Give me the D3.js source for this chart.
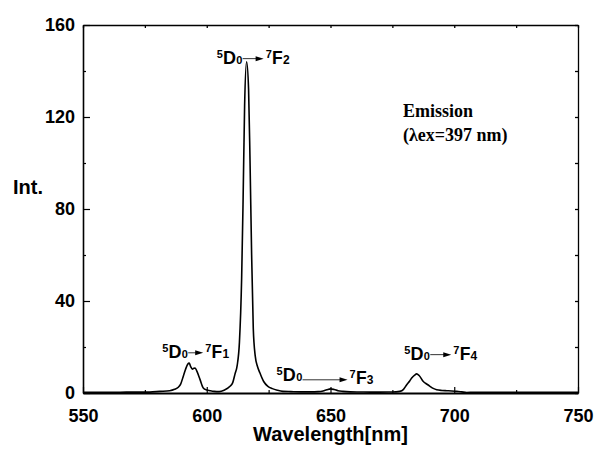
<!DOCTYPE html>
<html>
<head>
<meta charset="utf-8">
<script src="https://cdn.jsdelivr.net/npm/d3@7"></script>
<style>
  body { margin: 0; background: #fff; }
  svg { display: block; }
  .tick text { font-family: "Liberation Sans", Arial, sans-serif; font-weight: bold; font-size: 18px; fill: #000; }
  .axis path, .axis line { stroke: #000; }
  .lbl { font-family: "Liberation Sans", Arial, sans-serif; font-weight: bold; fill: #000; }
</style>
</head>
<body>
<svg width="597" height="457"></svg>
<script>
// emission spectrum
const wavelength = [550,555,560,565,570,575,577,581,585,587,588.5,589.5,590.5,591.5,592.3,592.9,593.5,594.2,594.8,595.3,596,597.3,598.6,600,601.3,603,605,607,609.4,610.5,611.4,612.3,613.2,614.1,614.7,615.3,616.1,616.9,617.5,618.1,618.8,619.6,620.5,621.5,623,624.7,626.5,628.5,630.8,634,638,642,645,647,648.5,650,651.5,653,655,658,662,666,670,674,676.5,678,679.5,680.8,682,682.8,684,684.8,685.8,687.5,689,690.2,691.5,692.9,695,697,699,701,703,705,708,712,718,725,732,740,750];
const intensity  = [0.3,0.3,0.35,0.35,0.4,0.4,0.4,0.7,1.0,1.6,2.5,4,7.2,10.5,12.5,13,11.5,10.4,10.8,10.9,9.5,5.8,2.2,1.3,1.0,0.7,0.6,1.2,2.9,4.5,8.2,12,22,50,85,125,144,132,100,62,28,16,11.5,8.7,5,2.9,1.9,1.2,0.7,0.6,0.5,0.5,0.6,0.9,1.4,1.8,1.5,1.0,0.7,0.5,0.45,0.4,0.4,0.45,0.5,0.7,1.6,3.6,5.2,6.5,7.8,8.3,7.6,5,3.8,2.9,2,1.4,1.1,1.0,0.9,0.7,0.5,0.25,0.3,0.3,0.3,0.3,0.3,0.3,0.3];

const xTicks = [550, 600, 650, 700, 750];
const xMinor = [575, 625, 675, 725];
const yTicks = [0, 40, 80, 120, 160];
const yMinor = [20, 60, 100, 140];

// 5D0 -> 7FJ transitions, anchored in data units
const transJ = ['1', '2', '3', '4'];
const transX = [582, 604, 628.2, 679.8];
const transY = [15.3, 143.2, 5.3, 14.5];

const xLabel = 'Wavelength[nm]';
const yLabel = 'Int.';
const noteLines = ['Emission', '(λex=397 nm)'];

const margin = { left: 83, right: 19, top: 25, bottom: 64 };
const svg = d3.select('svg');
const width = +svg.attr('width');
const height = +svg.attr('height');
const innerWidth = width - margin.left - margin.right;
const innerHeight = height - margin.top - margin.bottom;

const g = svg.append('g')
    .attr('transform', `translate(${margin.left},${margin.top})`);

const x = d3.scaleLinear().domain([550, 750]).range([0, innerWidth]);
const y = d3.scaleLinear().domain([0, 160]).range([innerHeight, 0]);

// frame: top and right mirror ticks, no labels
g.append('g').attr('class', 'axis')
    .call(d3.axisTop(x).tickValues(xTicks.concat(xMinor)).tickSize(-3).tickSizeOuter(0))
    .call(s => s.selectAll('text').remove())
    .call(s => s.selectAll('path, line').attr('stroke-width', 1.3));
g.append('g').attr('class', 'axis')
    .attr('transform', `translate(${innerWidth},0)`)
    .call(d3.axisRight(y).tickValues(yTicks.concat(yMinor)).tickSize(-3).tickSizeOuter(0))
    .call(s => s.selectAll('text').remove())
    .call(s => s.selectAll('path, line').attr('stroke-width', 1.3));

// bottom axis
g.append('g').attr('class', 'axis')
    .attr('transform', `translate(0,${innerHeight})`)
    .call(d3.axisBottom(x).tickValues(xMinor).tickSize(-3).tickSizeOuter(0))
    .call(s => s.selectAll('text').remove())
    .call(s => s.selectAll('line').attr('stroke-width', 1.2));
g.append('g').attr('class', 'axis')
    .attr('transform', `translate(0,${innerHeight})`)
    .call(d3.axisBottom(x).tickValues(xTicks).tickSize(-6).tickSizeOuter(0).tickPadding(16))
    .call(s => s.select('.domain').attr('stroke-width', 2))
    .call(s => s.selectAll('line').attr('stroke-width', 1.2));

// left axis
g.append('g').attr('class', 'axis')
    .call(d3.axisLeft(y).tickValues(yMinor).tickSize(-3).tickSizeOuter(0))
    .call(s => s.selectAll('text').remove())
    .call(s => s.selectAll('line').attr('stroke-width', 1.2));
g.append('g').attr('class', 'axis')
    .call(d3.axisLeft(y).tickValues(yTicks).tickSize(-7).tickSizeOuter(0).tickPadding(8))
    .call(s => s.select('.domain').attr('stroke-width', 1.6))
    .call(s => s.selectAll('line').attr('stroke-width', 1.2));

// spectrum
const line = d3.line()
    .x((d, i) => x(wavelength[i]))
    .y(d => y(d))
    .curve(d3.curveMonotoneX);

g.append('path')
    .datum(intensity)
    .attr('d', line)
    .attr('fill', 'none')
    .attr('stroke', '#000')
    .attr('stroke-width', 1.6)
    .attr('stroke-linejoin', 'round');

// axis titles
svg.append('text').attr('class', 'lbl')
    .attr('x', 13).attr('y', 194)
    .attr('font-size', 20)
    .text(yLabel);
svg.append('text').attr('class', 'lbl')
    .attr('x', margin.left + innerWidth / 2).attr('y', 441)
    .attr('text-anchor', 'middle')
    .attr('font-size', 20)
    .text(xLabel);

// note
svg.append('text')
    .attr('x', 403).attr('y', 117)
    .attr('font-family', '"Liberation Serif", "Times New Roman", serif')
    .attr('font-weight', 'bold')
    .attr('font-size', 18)
    .selectAll('tspan').data(noteLines).enter().append('tspan')
      .attr('x', 403)
      .attr('dy', (d, i) => i ? 24 : 0)
      .text(d => d);

// transition labels
const arrowLen = [15, 21, 45, 21];
const arrowDy = [-5, -5, -1, -5];
const tailDy = [0, 0, 3, 0];

transJ.forEach((j, i) => {
  const L = g.append('g')
      .attr('transform', `translate(${x(transX[i])},${y(transY[i])})`);
  const put = (tx, ty, size, s) => L.append('text').attr('class', 'lbl')
      .attr('x', tx).attr('y', ty).attr('font-size', size).text(s);
  const len = arrowLen[i];
  const a0 = 26;
  put(0, -6, 11, '5');
  put(6.3, 0, 18, 'D');
  put(19.6, 0, 11, '0');
  L.append('line')
      .attr('x1', a0).attr('x2', a0 + len - 6)
      .attr('y1', arrowDy[i]).attr('y2', arrowDy[i])
      .attr('stroke', '#333').attr('stroke-width', 1);
  L.append('path')
      .attr('d', `M${a0 + len},${arrowDy[i]} l-8,-2.5 l0,5 z`)
      .attr('fill', '#000');
  put(a0 + len + 2, tailDy[i] - 6, 11, '7');
  put(a0 + len + 8.4, tailDy[i], 17.5, 'F');
  put(a0 + len + 19.3, tailDy[i], 12, j);
});
</script>
</body>
</html>
